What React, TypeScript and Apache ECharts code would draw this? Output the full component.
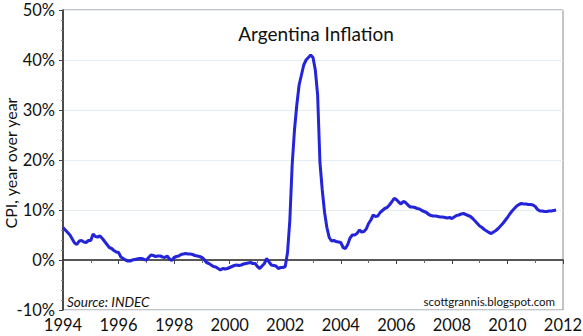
import React, { useEffect, useRef } from "react";
import * as echarts from "echarts";

const startYear = 1994;
const cpi1994 = [6.5, 6.0, 5.5, 5.0, 4.2, 3.4, 3.1, 3.8, 3.9, 3.6, 3.5, 3.9];
const cpi1995 = [3.9, 5.2, 4.7, 4.6, 4.8, 4.3, 3.7, 3.1, 2.5, 2.3, 1.9, 1.6];
const cpi1996 = [1.5, 0.6, 0.3, 0.0, -0.2, -0.2, 0.0, 0.1, 0.2, 0.3, 0.3, 0.1];
const cpi1997 = [0.0, 0.5, 1.0, 0.9, 0.7, 0.8, 0.8, 0.6, 0.5, 0.8, 0.2, -0.1];
const cpi1998 = [0.5, 0.7, 0.8, 1.1, 1.2, 1.3, 1.2, 1.2, 1.1, 0.9, 0.8, 0.7];
const cpi1999 = [0.5, 0.1, -0.5, -0.7, -1.0, -1.3, -1.4, -1.7, -2.0, -1.7, -1.8, -1.7];
const cpi2000 = [-1.5, -1.3, -1.1, -1.0, -1.1, -1.0, -0.8, -0.7, -0.6, -0.5, -0.7, -0.7];
const cpi2001 = [-1.3, -1.7, -1.2, -0.7, 0.3, -0.4, -1.0, -1.1, -1.2, -1.7, -1.5, -1.5];
const cpi2002 = [-1.3, 1.5, 8.0, 19.0, 26.0, 31.0, 35.0, 37.0, 39.0, 40.0, 40.5, 41.0];
const cpi2003 = [40.5, 38.0, 33.0, 19.5, 14.0, 9.5, 6.5, 4.5, 3.8, 3.9, 3.7, 3.6];
const cpi2004 = [3.5, 2.5, 2.3, 3.1, 4.4, 5.0, 5.0, 5.3, 6.0, 5.6, 5.7, 6.2];
const cpi2005 = [7.3, 8.0, 9.0, 8.7, 8.8, 9.5, 9.9, 10.3, 10.5, 11.0, 11.6, 12.3];
const cpi2006 = [12.1, 11.6, 11.2, 11.7, 11.5, 11.0, 10.6, 10.6, 10.5, 10.3, 10.2, 9.9];
const cpi2007 = [9.7, 9.5, 9.1, 8.9, 8.8, 8.8, 8.7, 8.6, 8.6, 8.5, 8.4, 8.5];
const cpi2008 = [8.3, 8.6, 8.9, 9.0, 9.2, 9.3, 9.1, 8.9, 8.7, 8.3, 7.8, 7.3];
const cpi2009 = [6.8, 6.5, 6.1, 5.8, 5.5, 5.3, 5.6, 5.9, 6.3, 6.8, 7.3, 7.9];
const cpi2010 = [8.5, 9.2, 9.8, 10.3, 10.8, 11.1, 11.3, 11.2, 11.2, 11.1, 11.1, 11.0];
const cpi2011 = [10.7, 10.1, 9.8, 9.8, 9.7, 9.7, 9.8, 9.8, 9.9, 10.0];

const yearlyValues = [
  cpi1994, cpi1995, cpi1996, cpi1997, cpi1998, cpi1999, cpi2000, cpi2001, cpi2002,
  cpi2003, cpi2004, cpi2005, cpi2006, cpi2007, cpi2008, cpi2009, cpi2010, cpi2011,
];

const title = "Argentina Inflation";
const yAxisTitle = "CPI, year over year";
const sourceText = "Source: INDEC";
const creditText = "scottgrannis.blogspot.com";

const FONT = "Lato, 'Open Sans', sans-serif";

export default function App() {
  const ref = useRef<HTMLDivElement>(null);
  useEffect(() => {
    if (!ref.current) return;
    const chart = echarts.init(ref.current, undefined, { renderer: "svg" });
    const data: [number, number][] = [];
    yearlyValues.forEach((vals, yi) => {
      vals.forEach((v, mi) => {
        data.push([startYear + yi + mi / 12, v]);
      });
    });
    chart.setOption({
      animation: false,
      backgroundColor: "#ffffff",
      textStyle: { fontFamily: FONT },
      grid: {
        left: 63,
        right: 20,
        top: 10,
        bottom: 26,
        outerBoundsMode: "none",
        containLabel: false,
        show: true,
        borderColor: "#8a8a8a",
        borderWidth: 1,
        backgroundColor: "transparent",
      },
      title: {
        text: title,
        left: 311,
        top: 19,
        textAlign: "center",
        textStyle: { fontFamily: FONT, fontSize: 19, fontWeight: "normal", color: "#111" },
      },
      xAxis: {
        type: "value",
        min: 1994,
        max: 2012,
        interval: 2,
        axisLine: { show: true, lineStyle: { color: "#222", width: 1.5 } },
        axisTick: { show: true, length: 4, lineStyle: { color: "#444" } },
        minorTick: { show: true, splitNumber: 2, length: 3, lineStyle: { color: "#666" } },
        splitLine: { show: false },
        axisLabel: {
          fontFamily: FONT,
          fontSize: 16.5,
          color: "#111",
          margin: 6,
          formatter: (v: number) => String(v),
        },
      },
      yAxis: {
        type: "value",
        min: -10,
        max: 50,
        interval: 10,
        axisLine: { show: true, lineStyle: { color: "#222", width: 1.5 } },
        axisTick: { show: true, length: 4, lineStyle: { color: "#444" } },
        minorTick: { show: true, splitNumber: 5, length: 2, lineStyle: { color: "#888" } },
        splitLine: { show: true, lineStyle: { color: "#e4ecf6", width: 1 } },
        axisLabel: {
          fontFamily: FONT,
          fontSize: 16.5,
          color: "#111",
          margin: 8,
          verticalAlign: "middle",
          formatter: (v: number) => v + "%",
        },
      },
      graphic: [
        {
          type: "text",
          x: 10,
          y: 163,
          rotation: Math.PI / 2,
          style: {
            text: yAxisTitle,
            font: "16px " + FONT,
            fill: "#111",
            align: "center",
            verticalAlign: "middle",
          },
        },
        {
          type: "text",
          left: 67,
          top: 295,
          style: { text: sourceText, font: "italic 13.5px " + FONT, fill: "#111" },
        },
        {
          type: "text",
          right: 28,
          top: 295,
          style: { text: creditText, font: "11.5px " + FONT, fill: "#111" },
        },
      ],
      series: [
        {
          type: "line",
          data,
          showSymbol: false,
          symbol: "none",
          lineStyle: { color: "#2424d8", width: 3 },
          z: 5,
        },
      ],
    });
    return () => chart.dispose();
  }, []);
  return <div ref={ref} style={{ width: 583, height: 336, position: "absolute", left: 0, top: 0 }} />;
}
